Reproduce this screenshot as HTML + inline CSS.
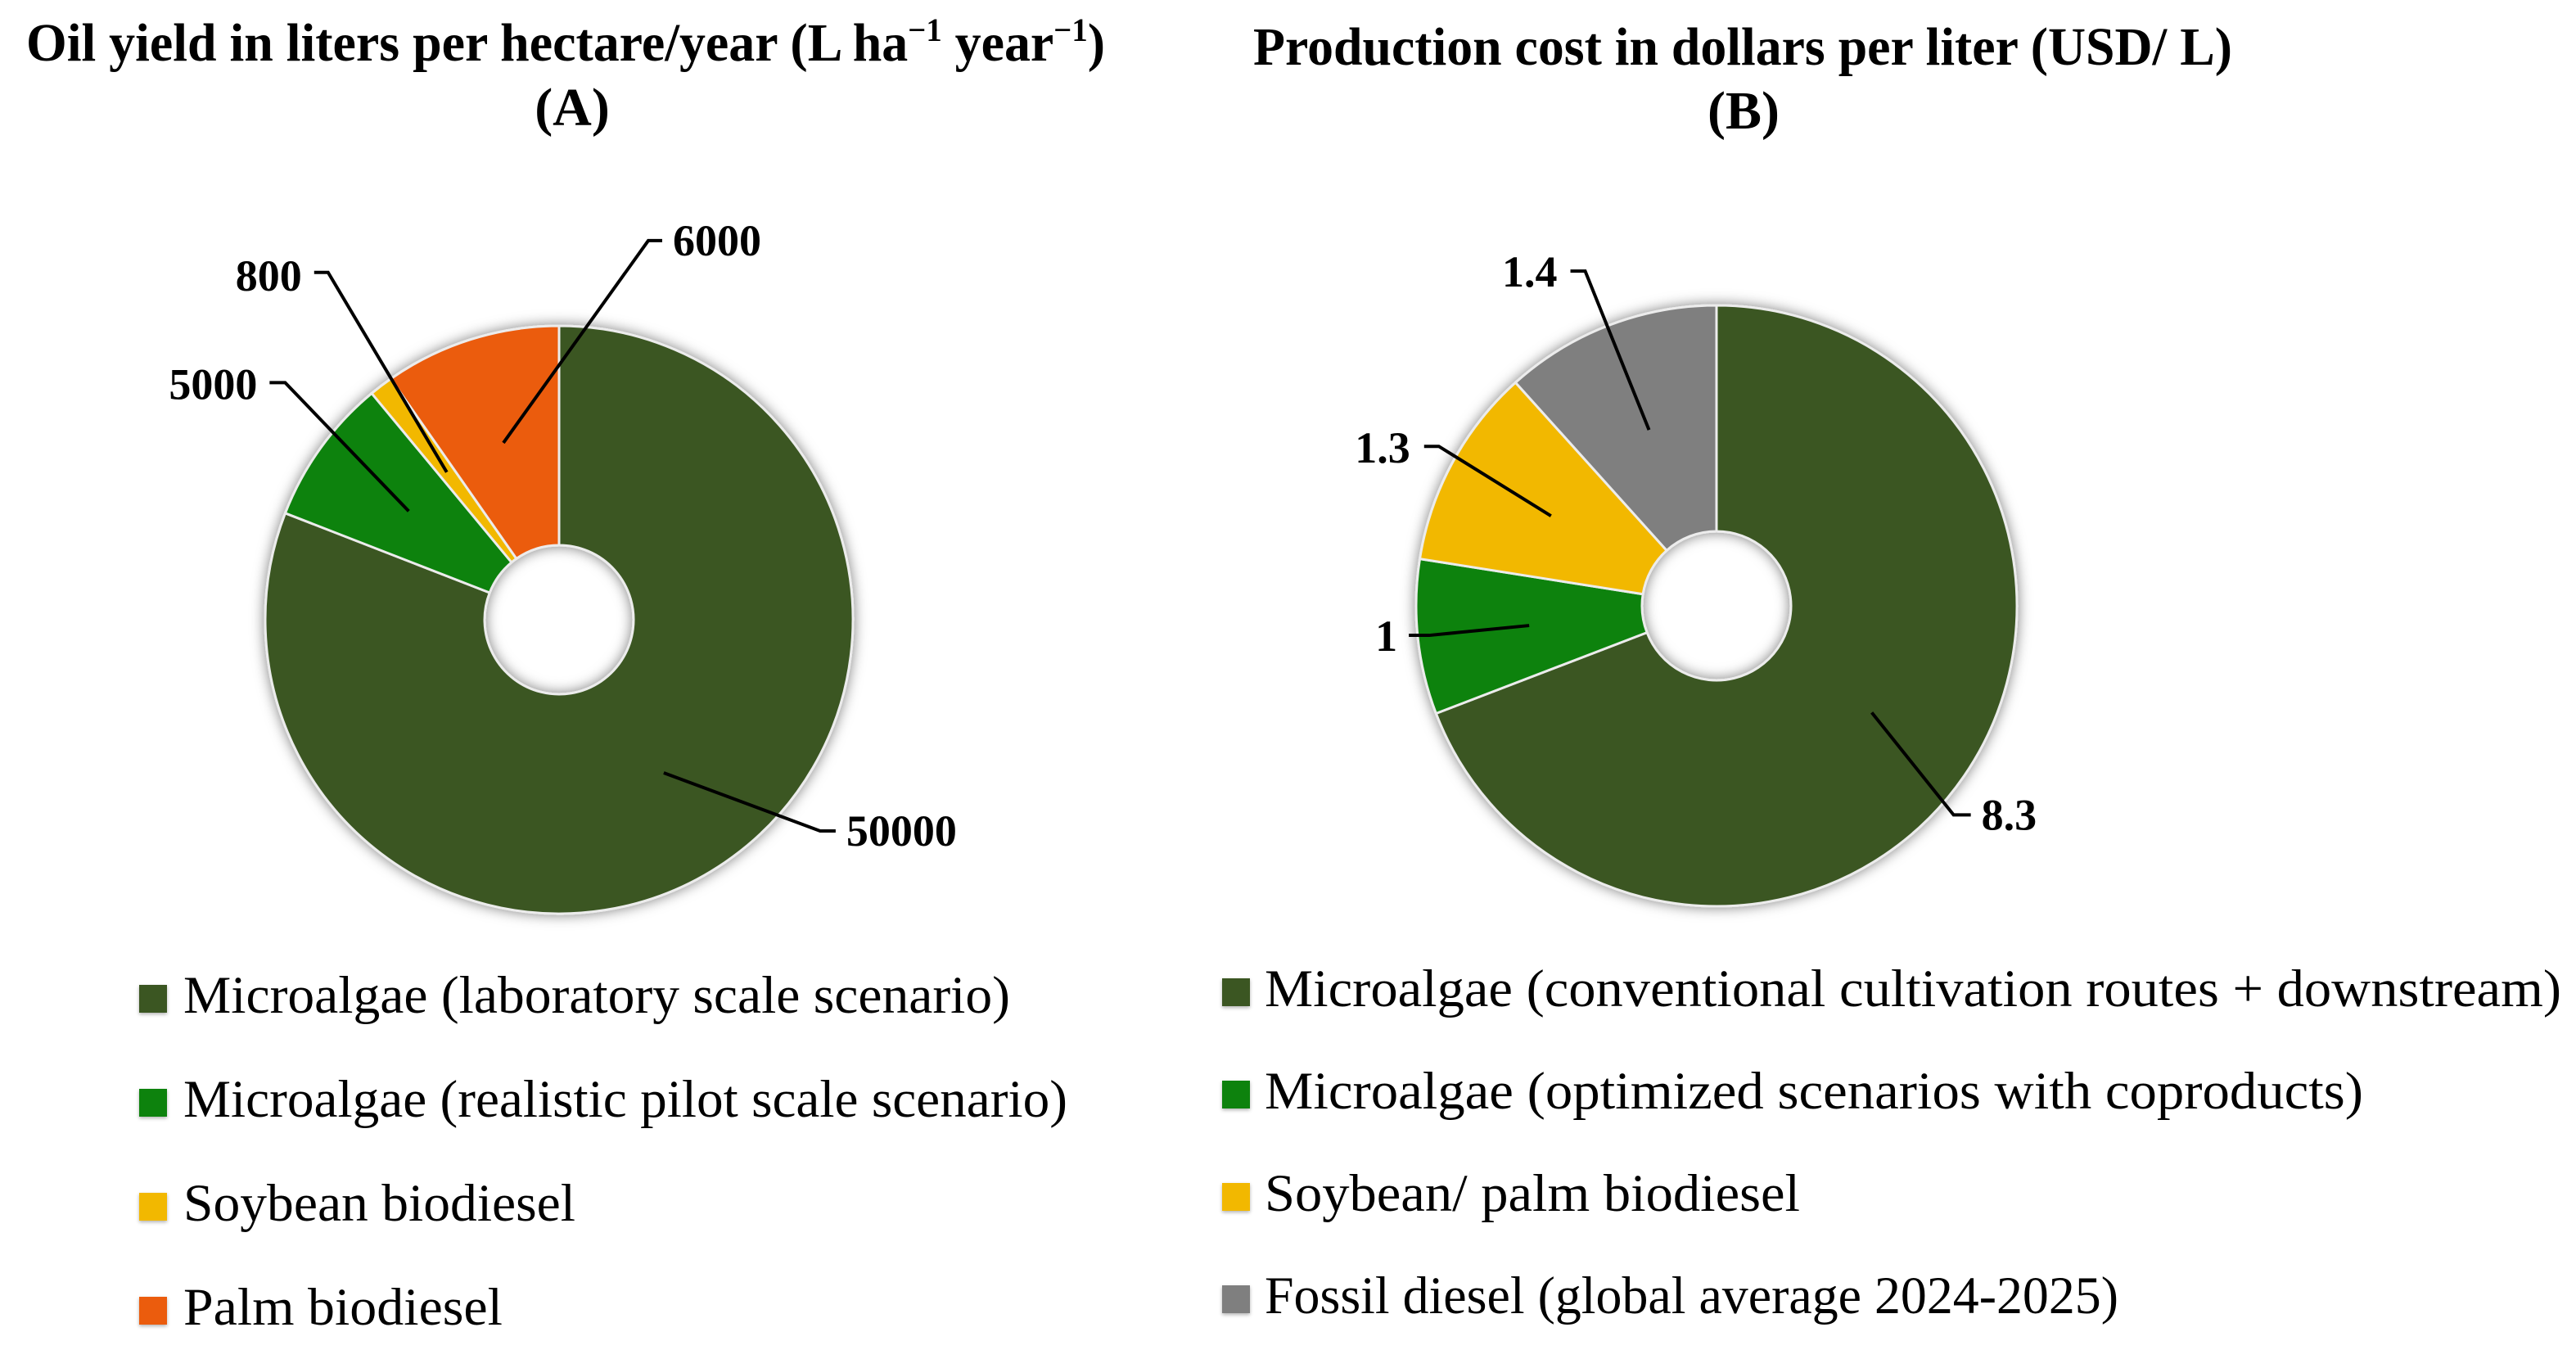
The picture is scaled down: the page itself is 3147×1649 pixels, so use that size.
<!DOCTYPE html>
<html lang="en">
<head>
<meta charset="utf-8">
<title>Oil yield and production cost donut charts</title>
<style>
  html, body { margin: 0; padding: 0; background: #fff; }
  svg { display: block; }
  text { font-family: "Liberation Serif", serif; fill: #000; }
  .title { font-size: 66px; font-weight: bold; }
  .val { font-size: 54px; font-weight: bold; }
  .leg { font-size: 65px; }
</style>
</head>
<body>
<svg id="chart" xmlns="http://www.w3.org/2000/svg" width="3147" height="1649" viewBox="0 0 3147 1649">
  <defs>
    <filter id="pie-shadow" x="-15%" y="-15%" width="130%" height="130%">
      <feDropShadow dx="0" dy="0" stdDeviation="8" flood-color="#000" flood-opacity="0.5"/>
    </filter>
    <filter id="swatch-shadow" x="-20%" y="-20%" width="140%" height="150%">
      <feDropShadow dx="0" dy="2" stdDeviation="2" flood-color="#000" flood-opacity="0.3"/>
    </filter>
  </defs>
  <rect width="3147" height="1649" fill="#fff"/>
  <text class="title" x="32" y="74" textLength="1318" lengthAdjust="spacingAndGlyphs">Oil yield in liters per hectare/year (L ha<tspan dy="-24" font-size="40">−1</tspan><tspan dy="24"> year</tspan><tspan dy="-24" font-size="40">−1</tspan><tspan dy="24">)</tspan></text>
  <text class="title" x="699" y="153" text-anchor="middle">(A)</text>
  <text class="title" x="1531" y="79" textLength="1196" lengthAdjust="spacingAndGlyphs">Production cost in dollars per liter (USD/ L)</text>
  <text class="title" x="2130" y="157" text-anchor="middle">(B)</text>
  <g id="chart-a"></g>
  <g id="chart-b"></g>
  <g id="legend-a"></g>
  <g id="legend-b"></g>
</svg>
<script>
// Chart data
const yieldCategories = [
  "Microalgae (laboratory scale scenario)",
  "Microalgae (realistic pilot scale scenario)",
  "Soybean biodiesel",
  "Palm biodiesel"
];
const yieldValues = [50000, 5000, 800, 6000];
const yieldColors = ["#3b5723", "#0a820a", "#f2b800", "#eb5c10"];

const costCategories = [
  "Microalgae (conventional cultivation routes + downstream)",
  "Microalgae (optimized scenarios with coproducts)",
  "Soybean/ palm biodiesel",
  "Fossil diesel (global average 2024-2025)"
];
const costValues = [8.3, 1, 1.3, 1.4];
const costColors = ["#3b5723", "#0a820a", "#f2b800", "#7f7f7f"];

const NS = "http://www.w3.org/2000/svg";

function polar(cx, cy, r, a) {
  return [cx + r * Math.sin(a), cy - r * Math.cos(a)];
}

function drawDonut(root, cfg) {
  const total = cfg.values.reduce((s, v) => s + v, 0);
  const slices = document.createElementNS(NS, "g");
  
  
  slices.setAttribute("filter", "url(#pie-shadow)");
  root.appendChild(slices);
  const leaders = document.createElementNS(NS, "g");
  
  
  root.appendChild(leaders);

  let acc = 0;
  cfg.values.forEach((v, i) => {
    const a0 = acc / total * 2 * Math.PI;
    acc += v;
    const a1 = acc / total * 2 * Math.PI;
    const large = a1 - a0 > Math.PI ? 1 : 0;
    const p0 = polar(cfg.cx, cfg.cy, cfg.r, a0);
    const p1 = polar(cfg.cx, cfg.cy, cfg.r, a1);
    const p2 = polar(cfg.cx, cfg.cy, cfg.hole, a1);
    const p3 = polar(cfg.cx, cfg.cy, cfg.hole, a0);
    const d = "M" + p0[0] + " " + p0[1] +
      " A" + cfg.r + " " + cfg.r + " 0 " + large + " 1 " + p1[0] + " " + p1[1] +
      " L" + p2[0] + " " + p2[1] +
      " A" + cfg.hole + " " + cfg.hole + " 0 " + large + " 0 " + p3[0] + " " + p3[1] + " Z";
    const slice = document.createElementNS(NS, "path");
    slice.setAttribute("d", d);
    slice.setAttribute("fill", cfg.colors[i]);
    slice.setAttribute("stroke", "#ececec");
    slice.setAttribute("stroke-width", "3");
    slice.setAttribute("stroke-linejoin", "round");
    
    
    slices.appendChild(slice);

    // Leader line starts inside the slice at its mid angle
    const mid = (a0 + a1) / 2;
    const anchor = polar(cfg.cx, cfg.cy, cfg.r * cfg.leaderFrac, mid);
    const n = cfg.nudges[i];
    const elbowX = anchor[0] + n.ex, elbowY = anchor[1] + n.ey;
    const stubX = anchor[0] + n.sx;
    const line = document.createElementNS(NS, "polyline");
    line.setAttribute("points", anchor[0] + "," + anchor[1] + " " + elbowX + "," + elbowY + " " + stubX + "," + elbowY);
    line.setAttribute("fill", "none");
    line.setAttribute("stroke", "#000");
    line.setAttribute("stroke-width", "4");
    
    
    leaders.appendChild(line);

    const label = document.createElementNS(NS, "text");
    label.setAttribute("class", "val");
    label.setAttribute("x", anchor[0] + n.lx);
    label.setAttribute("y", anchor[1] + n.ly);
    label.setAttribute("text-anchor", n.lx > 0 ? "start" : "end");
    
    
    label.textContent = String(v);
    leaders.appendChild(label);
  });
}

function drawLegend(root, cfg) {
  cfg.categories.forEach((name, i) => {
    const row = document.createElementNS(NS, "g");
    
    
    const base = cfg.baseY + i * cfg.step;
    const sw = document.createElementNS(NS, "rect");
    sw.setAttribute("x", cfg.swatchX);
    sw.setAttribute("y", base - 34);
    sw.setAttribute("width", 34);
    sw.setAttribute("height", 34);
    sw.setAttribute("fill", cfg.colors[i]);
    sw.setAttribute("filter", "url(#swatch-shadow)");
    
    
    row.appendChild(sw);
    const t = document.createElementNS(NS, "text");
    t.setAttribute("class", "leg");
    t.setAttribute("x", cfg.textX);
    t.setAttribute("y", base);
    t.setAttribute("textLength", cfg.widths[i]);
    t.setAttribute("lengthAdjust", "spacingAndGlyphs");
    
    
    t.textContent = name;
    row.appendChild(t);
    root.appendChild(row);
  });
}

drawDonut(document.getElementById("chart-a"), {
  key: "a", cx: 683, cy: 757, r: 359, hole: 91, leaderFrac: 0.631,
  values: yieldValues, colors: yieldColors,
  nudges: [
    { ex: 191, ey: 71, sx: 210, lx: 223, ly: 89 },
    { ex: -151, ey: -157, sx: -170, lx: -185, ly: -137 },
    { ex: -145, ey: -244, sx: -162, lx: -177, ly: -222 },
    { ex: 177, ey: -247, sx: 194, lx: 207, ly: -229 }
  ]
});
drawDonut(document.getElementById("chart-b"), {
  key: "b", cx: 2097, cy: 740, r: 367, hole: 91, leaderFrac: 0.627,
  values: costValues, colors: costColors,
  nudges: [
    { ex: 100, ey: 125, sx: 121, lx: 134, ly: 143 },
    { ex: -122, ey: 12, sx: -147, lx: -161, ly: 31 },
    { ex: -137, ey: -85, sx: -155, lx: -172, ly: -65 },
    { ex: -78, ey: -194, sx: -96, lx: -112, ly: -175 }
  ]
});
drawLegend(document.getElementById("legend-a"), {
  key: "a", categories: yieldCategories, colors: yieldColors,
  swatchX: 170, textX: 224, baseY: 1237, step: 127,
  widths: [1010, 1080, 479, 390]
});
drawLegend(document.getElementById("legend-b"), {
  key: "b", categories: costCategories, colors: costColors,
  swatchX: 1493, textX: 1545, baseY: 1229, step: 125,
  widths: [1584, 1342, 654, 1043]
});
</script>
</body>
</html>
